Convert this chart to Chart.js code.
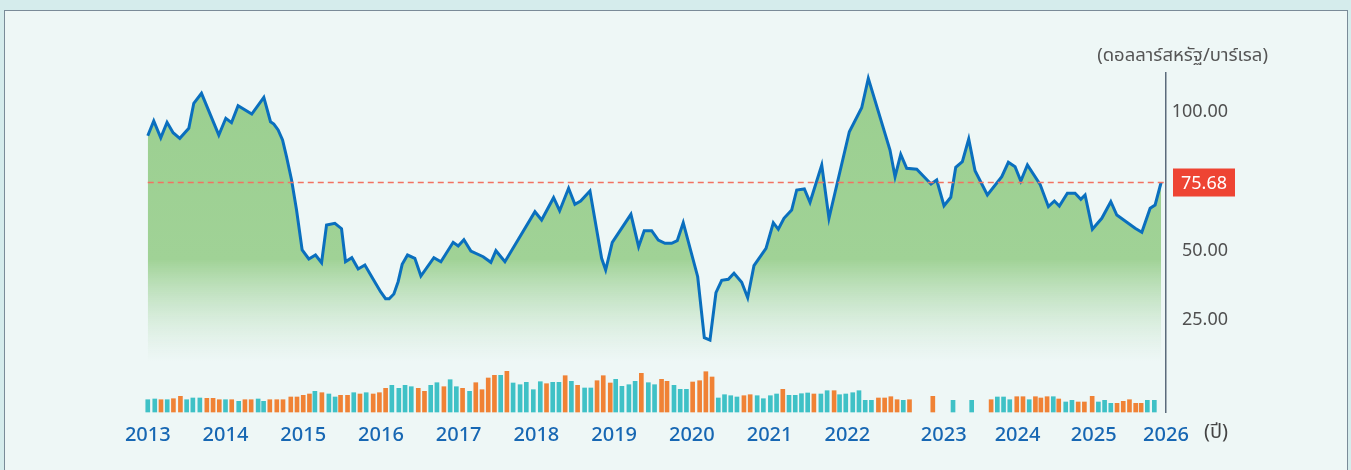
<!DOCTYPE html>
<html>
<head>
<meta charset="utf-8">
<script src="https://cdn.jsdelivr.net/npm/chart.js@4/dist/chart.umd.min.js"></script>
<style>
  body { margin: 0; background: #d5ecec; width: 1351px; height: 470px; overflow: hidden; position: relative; font-family: 'Noto Sans', 'Noto Sans Thai', sans-serif; }
  #frame { position: absolute; left: 4px; top: 10px; width: 1342px; height: 470px; border: 1.5px solid #7a8b98; background: #eef7f6; }
  #chartBox { position: absolute; left: 0; top: 0; }
  .unit { position: absolute; right: 83px; top: 41px; font-size: 18.5px; color: #555; white-space: nowrap; }
  .xunit { position: absolute; left: 1204px; top: 417px; font-size: 20px; color: #444; }
</style>
</head>
<body>
<div id="frame"></div>
<div id="chartBox"><canvas id="oilChart" width="1351" height="470"></canvas></div>
<div class="unit">(ดอลลาร์สหรัฐ/บาร์เรล)</div>
<div class="xunit">(ปี)</div>
<script>
// price line, x = year
const priceYears = [2013.000, 2013.077, 2013.167, 2013.248, 2013.326, 2013.412, 2013.528, 2013.592, 2013.691, 2013.914,
  2014.004, 2014.077, 2014.162, 2014.338, 2014.493, 2014.579, 2014.622, 2014.677, 2014.734, 2014.785,
  2014.850, 2014.914, 2014.986, 2015.072, 2015.158, 2015.236, 2015.300, 2015.407, 2015.493, 2015.544,
  2015.625, 2015.707, 2015.793, 2015.900, 2015.995, 2016.059, 2016.106, 2016.166, 2016.221, 2016.273,
  2016.342, 2016.436, 2016.514, 2016.681, 2016.771, 2016.929, 2016.994, 2017.067, 2017.157, 2017.315,
  2017.414, 2017.479, 2017.595, 2017.981, 2018.067, 2018.221, 2018.299, 2018.414, 2018.495, 2018.569,
  2018.689, 2018.839, 2018.891, 2018.976, 2019.216, 2019.315, 2019.387, 2019.483, 2019.568, 2019.654,
  2019.740, 2019.812, 2019.889, 2020.075, 2020.160, 2020.233, 2020.310, 2020.384, 2020.469, 2020.542,
  2020.641, 2020.718, 2020.799, 2020.954, 2021.048, 2021.112, 2021.185, 2021.284, 2021.349, 2021.447,
  2021.520, 2021.671, 2021.764, 2022.026, 2022.185, 2022.270, 2022.549, 2022.614, 2022.687, 2022.764,
  2022.893, 2022.999, 2023.077, 2023.150, 2023.244, 2023.331, 2023.395, 2023.480, 2023.562, 2023.643,
  2023.802, 2023.987, 2024.072, 2024.158, 2024.232, 2024.317, 2024.480, 2024.587, 2024.664, 2024.728,
  2024.831, 2024.930, 2025.004, 2025.059, 2025.153, 2025.274, 2025.390, 2025.467, 2025.703, 2025.789,
  2025.896, 2025.960, 2026.037];
const priceValues = [92.54, 97.84, 91.82, 97.37, 93.63, 91.61, 95.21, 104.22, 107.82, 92.80,
  98.82, 97.23, 103.36, 100.36, 106.38, 97.59, 96.76, 94.60, 91.00, 84.98,
  76.58, 65.77, 51.36, 48.11, 49.55, 46.78, 60.36, 60.98, 59.03, 47.14,
  48.58, 44.51, 45.95, 40.80, 36.33, 33.81, 33.81, 35.50, 39.93, 46.20,
  49.55, 48.36, 41.99, 48.58, 47.14, 54.13, 52.80, 55.07, 51.00, 48.94,
  46.92, 51.10, 47.14, 65.16, 62.17, 70.20, 65.52, 73.59, 67.82, 69.01,
  72.62, 48.36, 44.15, 54.13, 64.22, 52.54, 58.31, 58.31, 54.96, 53.77,
  53.77, 54.71, 61.19, 41.73, 19.75, 18.92, 35.97, 40.44, 40.80, 42.96,
  39.72, 34.17, 45.70, 51.97, 61.19, 58.82, 62.78, 65.77, 72.98, 73.34,
  68.54, 81.99, 62.78, 93.99, 102.63, 113.23, 87.39, 77.77, 85.84, 80.80,
  80.44, 77.41, 75.14, 76.58, 67.32, 70.35, 81.16, 83.18, 91.36, 79.93,
  71.18, 77.77, 82.96, 81.37, 76.22, 81.99, 75.03, 66.96, 69.01, 67.21,
  71.79, 71.79, 69.63, 71.18, 58.82, 62.78, 68.76, 63.97, 59.18, 57.73,
  66.38, 67.57, 75.68];

// monthly volume bars
const volYears = [2013.00, 2013.09, 2013.17, 2013.25, 2013.33, 2013.42, 2013.50, 2013.58, 2013.67, 2013.76,
  2013.84, 2013.92, 2014.00, 2014.08, 2014.17, 2014.25, 2014.33, 2014.42, 2014.49, 2014.57,
  2014.66, 2014.74, 2014.84, 2014.92, 2015.00, 2015.08, 2015.15, 2015.24, 2015.33, 2015.41,
  2015.48, 2015.57, 2015.65, 2015.73, 2015.81, 2015.90, 2015.98, 2016.06, 2016.14, 2016.23,
  2016.31, 2016.39, 2016.48, 2016.56, 2016.64, 2016.72, 2016.81, 2016.89, 2016.97, 2017.05,
  2017.14, 2017.22, 2017.30, 2017.38, 2017.46, 2017.54, 2017.62, 2017.70, 2017.79, 2017.87,
  2017.96, 2018.05, 2018.13, 2018.21, 2018.29, 2018.37, 2018.45, 2018.53, 2018.62, 2018.70,
  2018.78, 2018.86, 2018.95, 2019.02, 2019.10, 2019.19, 2019.27, 2019.35, 2019.44, 2019.52,
  2019.61, 2019.68, 2019.77, 2019.85, 2019.93, 2020.01, 2020.10, 2020.18, 2020.26, 2020.34,
  2020.42, 2020.50, 2020.58, 2020.67, 2020.75, 2020.84, 2020.92, 2021.01, 2021.09, 2021.17,
  2021.25, 2021.33, 2021.41, 2021.49, 2021.57, 2021.66, 2021.74, 2021.83, 2021.90, 2021.98,
  2022.07, 2022.15, 2022.23, 2022.31, 2022.40, 2022.48, 2022.56, 2022.64, 2022.72, 2022.80,
  2023.10, 2023.36, 2023.60, 2023.85, 2023.93, 2024.01, 2024.09, 2024.18, 2024.26, 2024.34,
  2024.42, 2024.49, 2024.57, 2024.65, 2024.72, 2024.81, 2024.89, 2024.97, 2025.05, 2025.15,
  2025.23, 2025.31, 2025.39, 2025.47, 2025.55, 2025.63, 2025.71, 2025.78, 2025.86, 2025.95];
const volValues = [12.3, 13, 12.3, 12.3, 13.3, 15.7, 12.3, 14, 14, 13.7,
  13.7, 12.3, 12.3, 12.3, 10.7, 12.3, 12.3, 13, 10.7, 12.3,
  12.3, 12.3, 15, 15, 16.7, 18, 20.7, 19.3, 18, 15,
  16.7, 16.7, 19.3, 18, 19.3, 18, 19.3, 23.7, 26.7, 23.7,
  26.7, 25.3, 23.7, 20.7, 26.7, 29.3, 25.3, 32.3, 25.3, 23.7,
  20.7, 29.3, 22.3, 34, 36.7, 36.7, 40.7, 29, 27.3, 29.7,
  22.3, 30.3, 28.3, 29.7, 29.7, 36.3, 30.7, 26.7, 24, 24,
  31.3, 36.3, 29, 32.7, 25.7, 27.3, 30.7, 38.7, 29.3, 27.3,
  32.7, 30.7, 26.7, 22.7, 22.7, 30, 31.3, 40.3, 35, 14,
  17.3, 16.3, 15, 16.3, 17.3, 16.3, 13.3, 16.3, 18, 22.7,
  16.7, 16.7, 18.3, 19, 18, 18, 21.3, 21.3, 17.3, 18,
  19.3, 21.3, 11.7, 11.7, 14, 14, 15.3, 12.3, 11.7, 12.3,
  15.7, 11.7, 11.7, 12.3, 15, 15, 12.3, 15.3, 15.3, 12.3,
  15.3, 14, 15.3, 15.3, 13, 10, 11.7, 10, 10, 15.7,
  10, 11.7, 8.7, 8.7, 10.7, 12.3, 8.7, 8.7, 11.7, 11.7];
// 1 = teal bar, 0 = orange bar
const volUp = [1,1,0,1,0,0,1,1,1,0, 0,0,1,0,1,0,0,1,1,0, 0,0,0,0,0,0,1,0,1,1,
  0,0,1,0,1,0,0,0,1,1, 1,1,0,0,1,1,0,1,1,0, 1,0,0,0,0,1,0,1,1,1,
  1,1,0,1,1,0,1,0,1,1, 0,0,0,1,1,1,1,0,1,1, 0,0,1,1,1,0,0,0,0,1,
  1,1,1,0,0,1,1,1,1,0, 1,1,1,1,0,1,1,0,1,1, 1,1,1,1,0,0,0,0,1,0,
  0,1,1,0,1,1,1,0,0,1, 0,0,0,1,0,1,1,0,0,0, 1,1,1,0,0,0,0,0,1,1];

// axis ticks
const yearTicks = [2013, 2014, 2015, 2016, 2017, 2018, 2019, 2020, 2021, 2022, 2023.24, 2024.19, 2025.17, 2026.1];
const priceTicks = [25, 50, 100];
const lastPrice = priceValues[priceValues.length - 1];

const lastPriceMark = {
    id: 'lastPriceMark',
    afterDatasetsDraw(chart) {
        const { ctx, chartArea, scales } = chart;
        const py = scales.y.getPixelForValue(lastPrice);
        const x0 = scales.x.getPixelForValue(priceYears[0]);
        ctx.save();
        ctx.strokeStyle = '#f27262';
        ctx.lineWidth = 1.5;
        ctx.setLineDash([6, 4]);
        ctx.beginPath();
        ctx.moveTo(x0, py);
        ctx.lineTo(chartArea.right, py);
        ctx.stroke();
        ctx.setLineDash([]);
        // red badge on the axis
        ctx.fillStyle = '#ee4433';
        ctx.fillRect(chartArea.right + 7, py - 14, 62, 28);
        ctx.fillStyle = '#ffffff';
        ctx.font = '18px "Noto Sans"';
        ctx.textAlign = 'center';
        ctx.textBaseline = 'middle';
        ctx.fillText(lastPrice.toFixed(2), chartArea.right + 38, py + 1);
        ctx.restore();
    }
};

const ctx = document.getElementById('oilChart').getContext('2d');
const oilChart = new Chart(ctx, {
    type: 'line',
    data: {
        datasets: [{
            type: 'line',
            data: priceYears.map((x, i) => ({ x: x, y: priceValues[i] })),
            borderColor: '#0a6fbe',
            borderWidth: 3,
            pointRadius: 0,
            tension: 0,
            fill: 'origin',
            backgroundColor: (c) => {
                const a = c.chart.chartArea;
                if (!a) return 'rgb(157,208,146)';
                const g = c.chart.ctx.createLinearGradient(0, a.top, 0, a.bottom);
                g.addColorStop(0, 'rgba(155,207,144,1)');
                g.addColorStop(0.55, 'rgba(160,210,150,1)');
                g.addColorStop(0.85, 'rgba(200,230,205,0)');
                g.addColorStop(1, 'rgba(200,230,205,0)');
                return g;
            },
            yAxisID: 'y',
            clip: false,
            order: 1
        }, {
            type: 'bar',
            data: volYears.map((x, i) => ({ x: x, y: volValues[i] })),
            backgroundColor: volUp.map(u => u ? '#3fc1c6' : '#f08235'),
            barThickness: 4,
            yAxisID: 'yv',
            clip: false,
            order: 2
        }]
    },
    options: {
        responsive: false,
        animation: false,
        layout: { padding: { left: 140, right: 123, top: 73, bottom: 0 } },
        plugins: { legend: { display: false }, tooltip: { enabled: false } },
        scales: {
            x: {
                type: 'linear',
                min: 2012.9,
                max: 2026.1,
                offset: false,
                grid: { display: false, drawTicks: false, offset: false },
                border: { display: false },
                afterBuildTicks: (s) => { s.ticks = yearTicks.map(v => ({ value: v })); },
                afterFit: (s) => { s.height = 58; },
                ticks: {
                    autoSkip: false,
                    maxRotation: 0,
                    padding: 11,
                    color: '#1767b3',
                    font: { family: 'Noto Sans', size: 20, weight: '500' },
                    callback: (v) => String(Math.floor(v + 0.001))
                }
            },
            y: {
                position: 'right',
                min: -7.02,
                max: 115.14,
                grid: { display: false, drawTicks: false },
                border: { display: true, color: '#5b6b7b', width: 1.5 },
                afterBuildTicks: (s) => { s.ticks = priceTicks.map(v => ({ value: v })); },
                afterFit: (s) => { s.width = 62; },
                ticks: {
                    padding: 5,
                    crossAlign: 'far',
                    labelOffset: -3,
                    color: '#505050',
                    font: { family: 'Noto Sans', size: 18 },
                    callback: (v) => Number(v).toFixed(2)
                }
            },
            yv: {
                display: false,
                min: 0,
                max: 339
            }
        }
    },
    plugins: [lastPriceMark]
});
</script>
</body>
</html>
